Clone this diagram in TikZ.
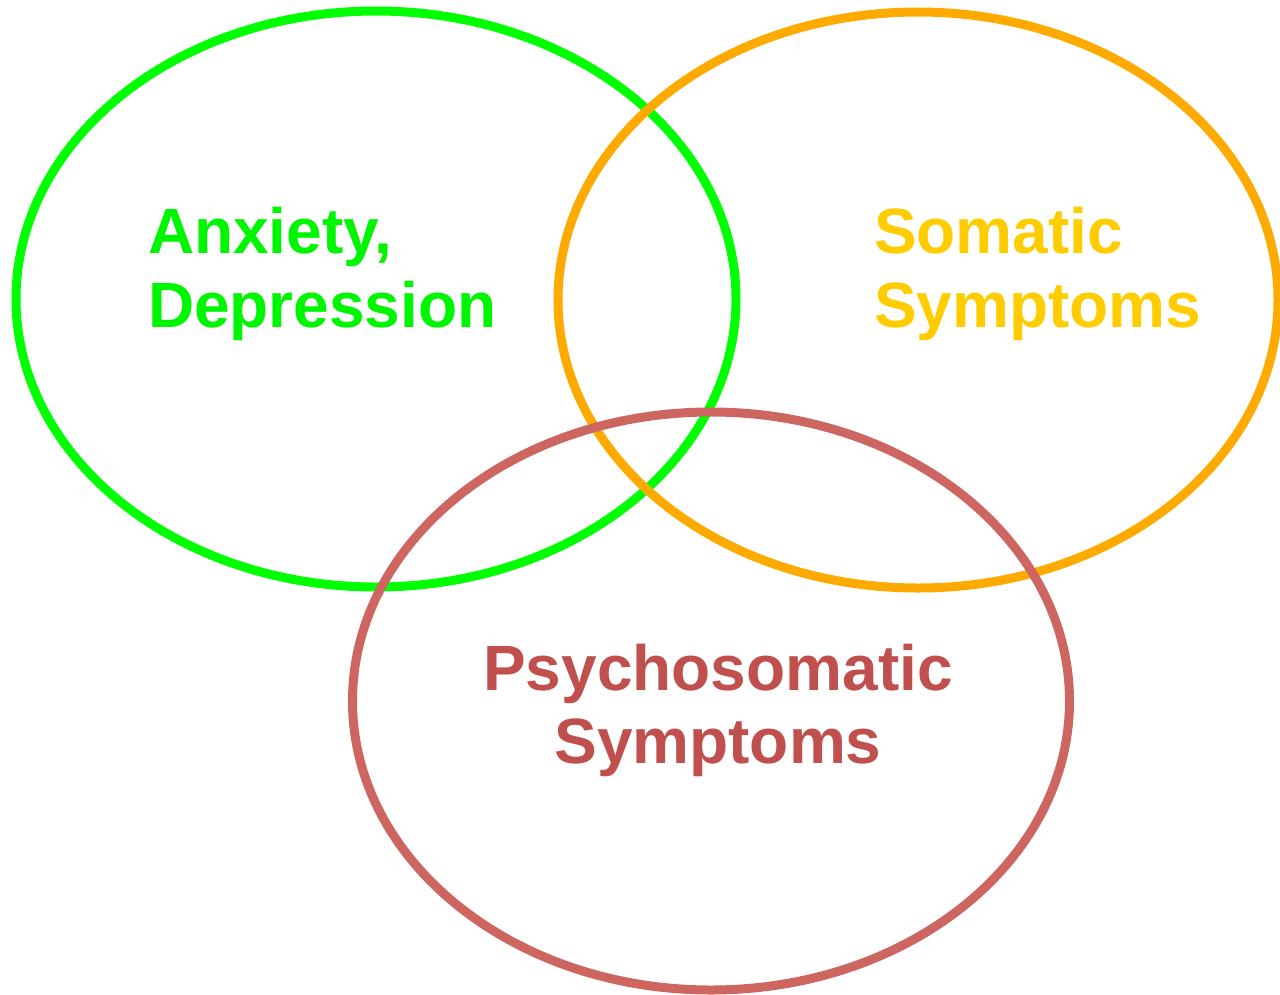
\documentclass[tikz,border=0pt]{standalone}
\usepackage{fontspec}
\setmainfont{Liberation Sans}
\usetikzlibrary{shapes.geometric}
\definecolor{cgreen}{RGB}{0,255,0}
\definecolor{corange}{RGB}{255,170,0}
\definecolor{cred}{RGB}{205,102,96}
\definecolor{tgreen}{RGB}{0,245,0}
\definecolor{tgold}{RGB}{255,204,0}
\definecolor{tred}{RGB}{192,80,77}
\begin{document}
\begin{tikzpicture}[x=1pt,y=-1pt,
  setring/.style={ellipse, draw=#1, line width=9pt, inner sep=0pt, outer sep=0pt, minimum width=720pt, minimum height=576pt},
  lbl/.style={inner sep=0pt, outer sep=0pt, font=\bfseries\fontsize{64}{74}\selectfont, text=#1}]
\useasboundingbox (0,0) rectangle (1280,994);
\node[setring=cgreen] (anx) at (376,299) {};
\node[setring=corange] (som) at (918,300) {};
\node[setring=cred, minimum width=717pt, minimum height=578pt] (psy) at (711,701) {};
\node[lbl=tgreen, anchor=base west] (anx1) at (148,253) {Anxiety,};
\node[lbl=tgreen, anchor=base west] (anx2) at (148,327) {Depression};
\node[lbl=tgold, anchor=base west] (som1) at (874,253) {Somatic};
\node[lbl=tgold, anchor=base west] (som2) at (874,327) {Symptoms};
\node[lbl=tred, anchor=base] (psy1) at (718,690) {Psychosomatic};
\node[lbl=tred, anchor=base] (psy2) at (718,763) {Symptoms};
\end{tikzpicture}
\end{document}
